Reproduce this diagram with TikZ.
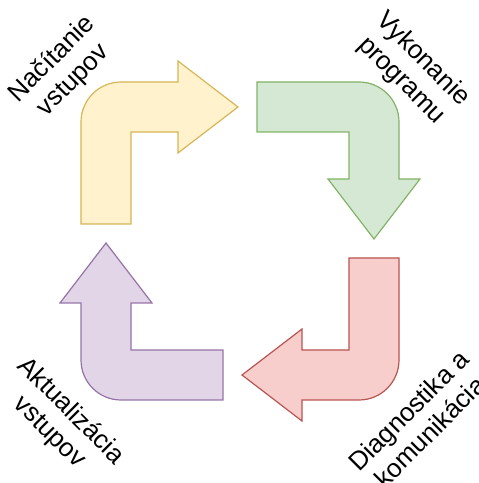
\documentclass[tikz,border=0pt]{standalone}
\usepackage{fontspec}
\setmainfont{Liberation Sans}
\definecolor{yellowfill}{HTML}{FFF2CC}
\definecolor{yellowline}{HTML}{D6B656}
\definecolor{greenfill}{HTML}{D5E8D4}
\definecolor{greenline}{HTML}{82B366}
\definecolor{redfill}{HTML}{F8CECC}
\definecolor{redline}{HTML}{B85450}
\definecolor{purplefill}{HTML}{E1D5E7}
\definecolor{purpleline}{HTML}{9673A6}
\begin{document}
\begin{tikzpicture}[x=1pt,y=1pt,font=\fontsize{26}{30}\selectfont]
            \useasboundingbox (0,0) rectangle (479,483);
            \foreach \ang/\fc/\dc in {0/yellowfill/yellowline,-90/greenfill/greenline,180/redfill/redline,90/purplefill/purpleline}
                \filldraw[fill=\fc,draw=\dc,line width=1.2pt,shift={(240,242)},rotate=\ang]
                    (-159,17) -- (-159,119) arc[start angle=180,end angle=90,radius=40] -- (-62,159)
                    -- (-62,180) -- (-2,134) -- (-62,88) -- (-62,109) -- (-109,109) -- (-109,17) -- cycle;
            \node[rotate=45,align=center] (nacitanie) at (63,413) {Načítanie\\vstupov};
            \node[rotate=-45,align=center] (vykonanie) at (412,413) {Vykonanie\\programu};
            \node[rotate=45,align=center] (diagnostika) at (419,62) {Diagnostika a\\komunikácia};
            \node[rotate=-45,align=center] (aktualizacia) at (60,61) {Aktualizácia\\vstupov};
        \end{tikzpicture}
\end{document}
